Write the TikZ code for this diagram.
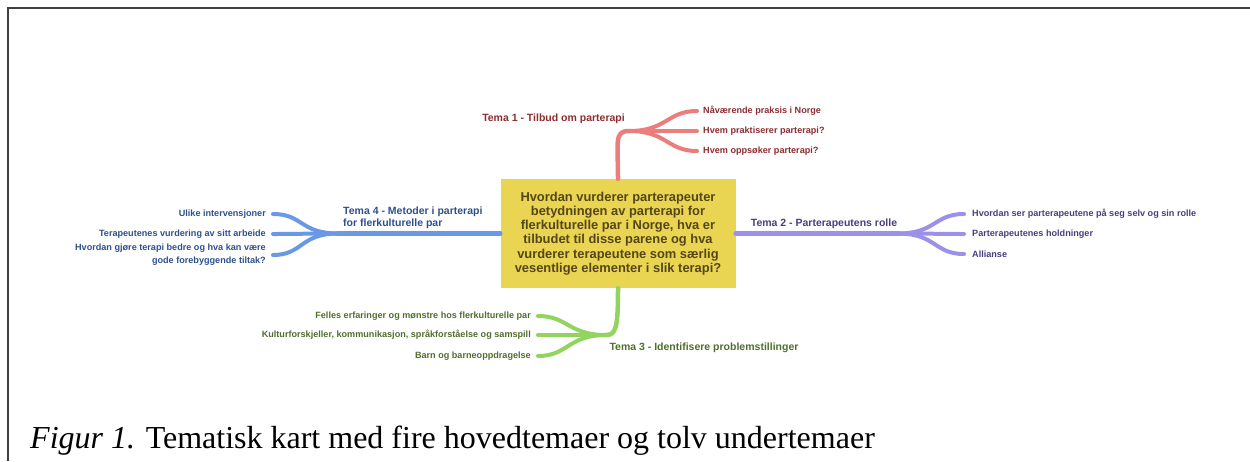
\documentclass[tikz,border=0pt]{standalone}
\usepackage{fontspec}
\setmainfont{Liberation Serif}
\setsansfont{Liberation Sans}
\usetikzlibrary{positioning}
\definecolor{qfill}{RGB}{233,213,82}
\definecolor{qtext}{RGB}{85,70,25}
\definecolor{redline}{RGB}{235,125,125}
\definecolor{redtext}{RGB}{140,45,50}
\definecolor{purline}{RGB}{155,145,232}
\definecolor{purtext}{RGB}{75,60,130}
\definecolor{grnline}{RGB}{145,212,95}
\definecolor{grntext}{RGB}{80,110,45}
\definecolor{bluline}{RGB}{105,152,228}
\definecolor{blutext}{RGB}{45,80,140}
\tikzstyle{question} = [fill=qfill, text=qtext, align=center, inner sep=0pt,
  minimum width=235pt, minimum height=109pt,
  font=\sffamily\bfseries\fontsize{12.9}{14.2}\selectfont]
\tikzstyle{tema} = [inner sep=0pt, font=\sffamily\bfseries\fontsize{10.5}{12}\selectfont]
\tikzstyle{sub} = [inner sep=0pt, font=\sffamily\bfseries\fontsize{9.1}{13}\selectfont]
\tikzstyle{trunk} = [line width=4.5pt, line cap=round]
\tikzstyle{twig} = [line width=4pt, line cap=round]

\begin{document}
\begin{tikzpicture}[x=1pt,y=-1pt]
  \useasboundingbox (0,0) rectangle (1250,461);
  \draw[line width=1.8pt, black!75] (8,461) -- (8,8) -- (1250,8);

  \node[question] (q) at (618,233.5) {Hvordan vurderer parterapeuter\\betydningen av parterapi for\\flerkulturelle par i Norge, hva er\\tilbudet til disse parene og hva\\vurderer terapeutene som særlig\\vesentlige elementer i slik terapi?};

  % Tema 1
  \coordinate (j1) at (629,131);
  \node[tema, text=redtext, anchor=east] (t1) at (625,119) {Tema 1 - Tilbud om parterapi};
  \node[sub, text=redtext, anchor=west] (s11) at (703,111) {Nåværende praksis i Norge};
  \node[sub, text=redtext, anchor=west] (s12) at (703,131) {Hvem praktiserer parterapi?};
  \node[sub, text=redtext, anchor=west] (s13) at (703,151) {Hvem oppsøker parterapi?};
  \draw[trunk, redline] (q.north) .. controls (618,142) and (614,131) .. (j1);
  \foreach \s in {s11,s12,s13}
    \draw[twig, redline] (j1) .. controls +(38,0) and +(-30,0) .. ([xshift=-6pt]\s.west);

  % Tema 2
  \coordinate (j2) at (898,233.5);
  \node[tema, text=purtext] (t2) at (824,224) {Tema 2 - Parterapeutens rolle};
  \node[sub, text=purtext, anchor=west] (s21) at (972,214) {Hvordan ser parterapeutene på seg selv og sin rolle};
  \node[sub, text=purtext, anchor=west] (s22) at (972,234) {Parterapeutenes holdninger};
  \node[sub, text=purtext, anchor=west] (s23) at (972,254) {Allianse};
  \draw[trunk, purline] (q.east) -- (j2);
  \foreach \s in {s21,s22,s23}
    \draw[twig, purline] (j2) .. controls +(38,0) and +(-30,0) .. ([xshift=-8pt]\s.west);

  % Tema 3
  \coordinate (j3) at (606,335);
  \node[tema, text=grntext] (t3) at (704,348) {Tema 3 - Identifisere problemstillinger};
  \node[sub, text=grntext, anchor=east] (s31) at (531,316) {Felles erfaringer og mønstre hos flerkulturelle par};
  \node[sub, text=grntext, anchor=east] (s32) at (531,335) {Kulturforskjeller, kommunikasjon, språkforståelse og samspill};
  \node[sub, text=grntext, anchor=east] (s33) at (531,356) {Barn og barneoppdragelse};
  \draw[trunk, grnline] (q.south) .. controls (618,328) and (616,335) .. (j3);
  \foreach \s in {s31,s32,s33}
    \draw[twig, grnline] (j3) .. controls +(-38,0) and +(30,0) .. ([xshift=7pt]\s.east);

  % Tema 4
  \coordinate (j4) at (338,233.5);
  \node[tema, text=blutext, anchor=west, align=left] (t4) at (343,218) {Tema 4 - Metoder i parterapi\\for flerkulturelle par};
  \node[sub, text=blutext, anchor=east] (s41) at (266,214) {Ulike intervensjoner};
  \node[sub, text=blutext, anchor=east] (s42) at (266,234) {Terapeutenes vurdering av sitt arbeide};
  \node[sub, text=blutext, anchor=east, align=right] (s43) at (266,255) {Hvordan gjøre terapi bedre og hva kan være\\gode forebyggende tiltak?};
  \draw[trunk, bluline] (q.west) -- (j4);
  \foreach \s in {s41,s42,s43}
    \draw[twig, bluline] (j4) .. controls +(-38,0) and +(30,0) .. ([xshift=7pt]\s.east);

  \node[anchor=base west, inner sep=0pt, font=\fontsize{32}{36}\selectfont] (cap) at (30,448) {\textit{Figur 1.} Tematisk kart med fire hovedtemaer og tolv undertemaer};
\end{tikzpicture}
\end{document}
